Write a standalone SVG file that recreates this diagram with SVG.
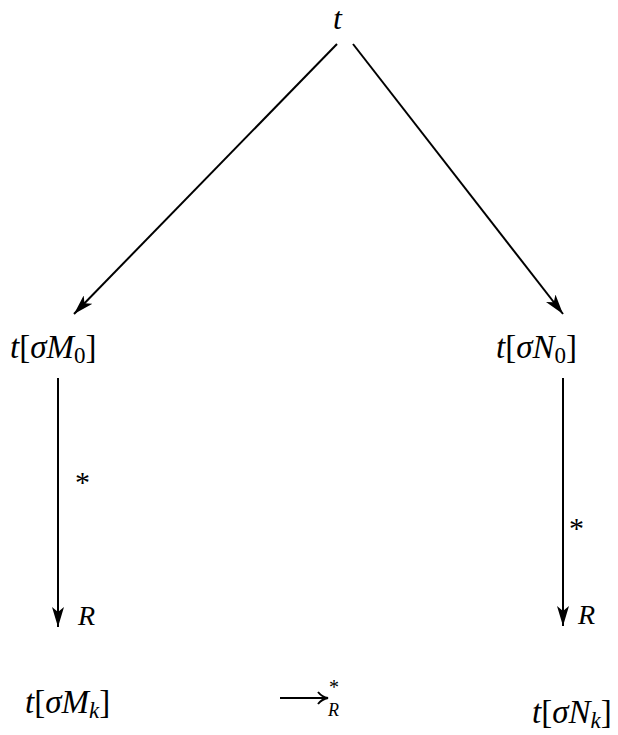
<svg xmlns="http://www.w3.org/2000/svg" width="618" height="735" viewBox="0 0 618 735">
<style>
.m{font-family:"Liberation Serif","DejaVu Serif",serif;fill:#000}
.i{font-style:italic}
.c{stroke:#000;stroke-width:2;fill:none}
</style>
<defs>
<marker id="ah" viewBox="0 0 20 12" refX="20" refY="6" markerWidth="20" markerHeight="12" markerUnits="userSpaceOnUse" orient="auto">
<path d="M0,0 L20,6 L0,12 L5,6 Z" fill="#000"/>
</marker>
</defs>
<rect width="618" height="735" fill="#fff"/>
<g id="connectors">
<line class="c" x1="337" y1="44" x2="74" y2="314" marker-end="url(#ah)"/>
<line class="c" x1="353" y1="44" x2="563" y2="314" marker-end="url(#ah)"/>
<line class="c" x1="58" y1="378" x2="58" y2="627" marker-end="url(#ah)"/>
<line class="c" x1="563" y1="378" x2="563" y2="626" marker-end="url(#ah)"/>
<line class="c" x1="280" y1="698" x2="327" y2="698" stroke-width="1.5"/>
<path d="M318,692 Q322,697 328,698 Q322,699 318,704" class="c" stroke-width="1.5"/>
<text class="m" x="75" y="492" font-size="30">*</text>
<text class="m" x="569" y="538" font-size="30">*</text>
<text class="m i" x="78" y="625" font-size="28">R</text>
<text class="m i" x="578" y="624" font-size="28">R</text>
</g>
<g id="n_t"><text class="m i" x="333" y="29" font-size="32">t</text></g>
<g id="n_M0"><text class="m" x="10" y="358" font-size="33"><tspan class="i">t</tspan>[<tspan class="i">σM</tspan><tspan font-size="23" dy="5">0</tspan><tspan dy="-5">]</tspan></text></g>
<g id="n_N0"><text class="m" x="496" y="358" font-size="33"><tspan class="i">t</tspan>[<tspan class="i">σN</tspan><tspan font-size="23" dy="5">0</tspan><tspan dy="-5">]</tspan></text></g>
<g id="n_Mk"><text class="m" x="25" y="713" font-size="33"><tspan class="i">t</tspan>[<tspan class="i">σM</tspan><tspan class="i" font-size="23" dy="5">k</tspan><tspan dy="-5">]</tspan></text></g>
<g id="n_Nk"><text class="m" x="532" y="723" font-size="33"><tspan class="i">t</tspan>[<tspan class="i">σN</tspan><tspan class="i" font-size="23" dy="5">k</tspan><tspan dy="-5">]</tspan></text></g>
<g id="rel"><text class="m" x="329" y="694" font-size="20">*</text><text class="m i" x="328" y="716" font-size="18">R</text></g>
</svg>
